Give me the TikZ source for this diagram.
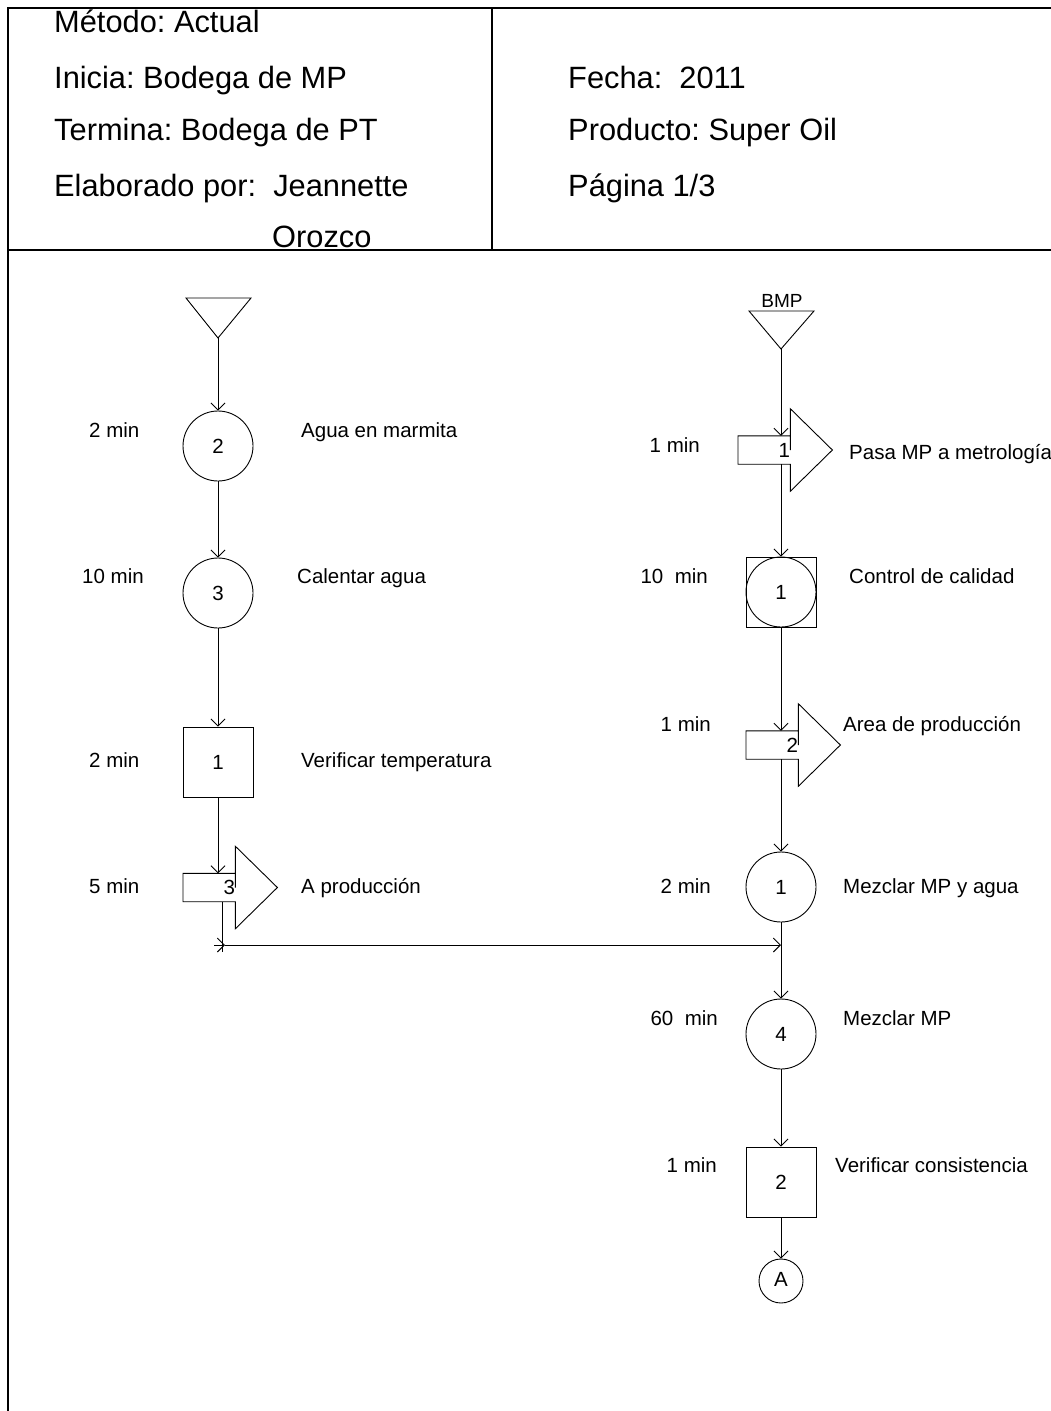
\documentclass[tikz,border=0pt]{standalone}
\usepackage{fontspec}
\setmainfont{Liberation Sans}
\usetikzlibrary{arrows.meta,calc}
\frenchspacing

% transport symbol: box with a large arrow head; #1 name, #2 left x, #3 centre y, #4 number
\newcommand\transportsym[4]{%
  \node[minimum width=52pt,minimum height=28pt,inner sep=0pt,anchor=west] (#1) at (#2,#3) {};
  \draw[thinline] (#1.east) -- (#1.north east) -- (#1.north west) -- (#1.south west)
    -- (#1.south east) -- ($(#1.south east)+(0,27)$) -- ($(#1.east)+(42,0)$)
    -- ($(#1.north east)+(0,-27)$) -- (#1.north east);
  \node[numtext] at ($(#1.east)+(-6,0)$) {#4};
}

\begin{document}
\begin{tikzpicture}[x=1pt,y=-1pt,
  thinline/.style={line width=0.9pt,draw=black},
  framel/.style={line width=1.8pt},
  flow/.style={thinline,-{Straight Barb[length=7pt,width=14pt,line width=0.9pt]}},
  numtext/.style={inner sep=0pt,font=\fontsize{20.5}{24}\selectfont},
  oper/.style={thinline,circle,minimum size=70pt,inner sep=0pt,font=\fontsize{20.5}{24}\selectfont},
  inspect/.style={thinline,rectangle,minimum size=70pt,inner sep=0pt,font=\fontsize{20.5}{24}\selectfont},
  lbl/.style={anchor=base west,inner sep=0pt,font=\fontsize{20.5}{24}\selectfont},
  tleft/.style={anchor=base west,inner sep=0pt,font=\fontsize{20.5}{24}\selectfont},
  tright/.style={anchor=base east,inner sep=0pt,font=\fontsize{20.5}{24}\selectfont},
  headtxt/.style={anchor=base west,inner sep=0pt,font=\fontsize{30.8}{37}\selectfont}
]
\useasboundingbox (0,0) rectangle (1050,1411);

% frame and header
\draw[framel] (8,1420) -- (8,8) -- (1060,8);
\draw[framel] (8,250) -- (1060,250);
\draw[framel] (492,8) -- (492,250);

\node[headtxt] (h1) at (54,32) {Método: Actual};
\node[headtxt] (h2) at (54,88) {Inicia: Bodega de MP};
\node[headtxt] (h3) at (54,140) {Termina: Bodega de PT};
\node[headtxt] (h4) at (54,196) {Elaborado por:\ \ Jeannette};
\node[headtxt] (h5) at (272,247) {Orozco};
\node[headtxt] (h6) at (568,88) {Fecha:\ \ 2011};
\node[headtxt] (h7) at (568,140) {Producto: Super Oil};
\node[headtxt] (h8) at (568,196) {Página 1/3};

% left column
\coordinate (sL) at (218,338);
\draw[thinline] (186,298) -- (251,298) -- (sL) -- cycle;
\node[oper] (c2) at (218,446) {2};
\node[oper] (c3) at (218,593) {3};
\node[inspect] (b1) at (218,762) {1};
\transportsym{t3}{183}{887.5}{3}

\draw[flow] (sL) -- (c2.north);
\draw[flow] (c2.south) -- (c3.north);
\draw[flow] (c3.south) -- (b1.north);
\draw[flow] (b1.south) -- (t3.north -| b1.south);

\node[tleft] (m1) at (89,437) {2 min};
\node[tleft] (m2) at (82,583) {10 min};
\node[tleft] (m3) at (89,767) {2 min};
\node[tleft] (m4) at (89,893) {5 min};
\node[lbl] (l1) at (301,437) {Agua en marmita};
\node[lbl] (l2) at (297,583) {Calentar agua};
\node[lbl] (l3) at (301,767) {Verificar temperatura};
\node[lbl] (l4) at (301,893) {A producción};

% right column
\node[inner sep=0pt,font=\fontsize{19}{22}\selectfont] (bmp) at (782,301) {BMP};
\coordinate (sR) at (781,349);
\draw[thinline] (749,311) -- (814,311) -- (sR) -- cycle;
\transportsym{t1}{738}{450}{1}
\node[inspect] (q1) at (781,592) {1};
\draw[thinline] (q1.center) circle (35pt);
\transportsym{t2}{746}{745}{2}
\node[oper] (c1) at (781,887) {1};
\node[oper] (c4) at (781,1034) {4};
\node[inspect] (b2) at (781,1182) {2};
\node[thinline,circle,minimum size=44pt,inner sep=0pt,font=\fontsize{20.5}{24}\selectfont] (A) at (781,1281) {\raisebox{3pt}{A}};

\draw[flow] (sR) -- (t1.north -| sR);
\draw[flow] (t1.south -| q1.north) -- (q1.north);
\draw[flow] (q1.south) -- (t2.north -| q1.south);
\draw[flow] (t2.south -| c1.north) -- (c1.north);
\draw[flow] (c1.south) -- (c4.north);
\draw[flow] (c4.south) -- (b2.north);
\draw[flow] (b2.south) -- (A.north);

% joining line from the left column
\coordinate (d3) at (222,952);
\draw[thinline] (t3.south -| d3) -- (d3);
\coordinate (j0) at (214,945);
\coordinate (j1) at (225,945);
\draw[flow] (j0) -- (j1);
\draw[flow] (j1) -- (j1 -| c1.south);

\node[tright] (n1) at (700,452) {1 min};
\node[tright] (n2) at (708,583) {10\ \ min};
\node[tright] (n3) at (711,731) {1 min};
\node[tright] (n4) at (711,893) {2 min};
\node[tright] (n5) at (718,1025) {60\ \ min};
\node[tright] (n6) at (717,1172) {1 min};
\node[lbl] (r1) at (849,459) {Pasa MP a metrología};
\node[lbl] (r2) at (849,583) {Control de calidad};
\node[lbl] (r3) at (843,731) {Area de producción};
\node[lbl] (r4) at (843,893) {Mezclar MP y agua};
\node[lbl] (r5) at (843,1025) {Mezclar MP};
\node[lbl] (r6) at (835,1172) {Verificar consistencia};
\end{tikzpicture}
\end{document}
